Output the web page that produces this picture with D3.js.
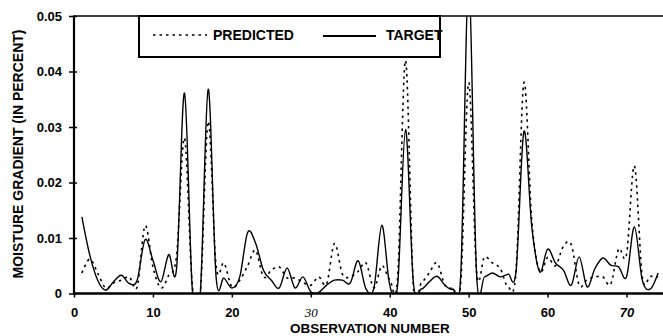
<!DOCTYPE html>
<html>
<head>
<meta charset="utf-8">
<script src="https://cdn.jsdelivr.net/npm/d3@7"></script>
<style>
  body { margin: 0; background: #fff; }
  svg { display: block; font-family: "Liberation Sans", Arial, sans-serif; }
</style>
</head>
<body>
<div id="chart"></div>
<script>
// observation numbers (x categories)
const observations = [1, 2, 3, 4, 5, 6, 7, 8, 9, 10, 11, 12, 13, 14, 15, 16, 17, 18, 19, 20,
  21, 22, 23, 24, 25, 26, 27, 28, 29, 30, 31, 32, 33, 34, 35, 36, 37, 38, 39, 40,
  41, 42, 43, 44, 45, 46, 47, 48, 49, 50, 51, 52, 53, 54, 55, 56, 57, 58, 59, 60,
  61, 62, 63, 64, 65, 66, 67, 68, 69, 70, 71, 72, 73, 74];

// target moisture gradient (solid line)
const targetValues = [0.0138, 0.0069, 0.0024, 0.0006, 0.0021, 0.0033, 0.0018, 0.0024, 0.0097, 0.0060,
  0.0021, 0.0070, 0.0046, 0.0361, 0.0005, 0.0000, 0.0368, 0.0030, 0.0028, 0.0010,
  0.0030, 0.0110, 0.0091, 0.0042, 0.0024, 0.0010, 0.0046, 0.0010, 0.0030, 0.0003,
  0.0002, 0.0015, 0.0024, 0.0024, 0.0019, 0.0059, 0.0008, 0.0010, 0.0123, 0.0015,
  0.0015, 0.0295, 0.0019, 0.0008, 0.0021, 0.0031, 0.0015, 0.0008, 0.0035, 0.0560,
  0.0035, 0.0030, 0.0037, 0.0030, 0.0035, 0.0040, 0.0292, 0.0120, 0.0039, 0.0080,
  0.0055, 0.0042, 0.0015, 0.0066, 0.0012, 0.0045, 0.0064, 0.0051, 0.0048, 0.0030,
  0.0120, 0.0024, 0.0008, 0.0037];

// predicted moisture gradient (dotted line)
const predictedValues = [0.0037, 0.0062, 0.0037, 0.0010, 0.0019, 0.0024, 0.0030, 0.0012, 0.0122, 0.0048,
  0.0010, 0.0033, 0.0069, 0.0280, 0.0012, 0.0000, 0.0310, 0.0050, 0.0055, 0.0012,
  0.0024, 0.0050, 0.0078, 0.0030, 0.0042, 0.0048, 0.0028, 0.0028, 0.0020, 0.0015,
  0.0030, 0.0017, 0.0090, 0.0035, 0.0030, 0.0040, 0.0055, 0.0010, 0.0050, 0.0025,
  0.0030, 0.0420, 0.0012, 0.0019, 0.0037, 0.0055, 0.0015, 0.0010, 0.0019, 0.0380,
  0.0040, 0.0066, 0.0055, 0.0045, 0.0012, 0.0040, 0.0380, 0.0130, 0.0040, 0.0065,
  0.0050, 0.0085, 0.0088, 0.0015, 0.0025, 0.0030, 0.0030, 0.0017, 0.0080, 0.0070,
  0.0230, 0.0030, 0.0031, 0.0030];

const xTicks = [0, 10, 20, 30, 40, 50, 60, 70];
const yTicks = [0, 0.01, 0.02, 0.03, 0.04, 0.05];

const width = 663;
const height = 336;

const svg = d3.select('#chart').append('svg')
  .attr('width', width)
  .attr('height', height);

const x = d3.scaleLinear().domain([0, 75]).range([74, 666]);
const y = d3.scaleLinear().domain([0, 0.05]).range([293.5, 16]);

// clip the curves to the plot area
svg.append('clipPath').attr('id', 'plotClip')
  .append('rect')
  .attr('x', 74).attr('y', 16)
  .attr('width', width - 74).attr('height', 293.5 - 16);

// uniform catmull-rom, close to the spreadsheet "smoothed line"
const line = d3.line()
  .x((d, i) => x(observations[i]))
  .y(d => y(d))
  .curve(d3.curveCatmullRom.alpha(0));

const plot = svg.append('g').attr('clip-path', 'url(#plotClip)');

plot.append('path')
  .datum(predictedValues)
  .attr('fill', 'none')
  .attr('stroke', '#000')
  .attr('stroke-width', 1.6)
  .attr('stroke-dasharray', '2.5,4')
  .attr('d', line);

plot.append('path')
  .datum(targetValues)
  .attr('fill', 'none')
  .attr('stroke', '#000')
  .attr('stroke-width', 1.4)
  .attr('d', line);

// y axis
const yAxis = svg.append('g')
  .attr('transform', 'translate(74,0)')
  .call(d3.axisLeft(y)
    .tickValues(yTicks)
    .tickSize(5)
    .tickPadding(7)
    .tickFormat(d => d === 0 ? '0' : d3.format('.2f')(d)));
yAxis.select('.domain').remove();
yAxis.selectAll('.tick line').attr('x1', 3).attr('stroke-width', 1.5);
yAxis.selectAll('.tick text')
  .style('font-family', '"Liberation Sans", Arial, sans-serif')
  .style('font-size', '13px')
  .style('font-weight', 'bold')
  .attr('fill', '#000');

// x axis
const xAxis = svg.append('g')
  .attr('transform', 'translate(0,293.5)')
  .call(d3.axisBottom(x)
    .tickValues(xTicks)
    .tickSize(4)
    .tickPadding(10)
    .tickFormat(d3.format('d')));
xAxis.select('.domain').remove();
xAxis.selectAll('.tick line').attr('stroke-width', 1.5);
xAxis.selectAll('.tick text')
  .style('font-family', d => d === 30 ? '"Liberation Serif", "Times New Roman", serif' : '"Liberation Sans", Arial, sans-serif')
  .style('font-style', d => (d === 30 || d === 70) ? 'italic' : 'normal')
  .style('font-weight', d => d === 30 ? 'normal' : 'bold')
  .style('font-size', '13px')
  .attr('fill', '#000');

// frame lines: y axis, bottom axis, top border
svg.append('line')
  .attr('x1', 74).attr('x2', 74)
  .attr('y1', 16).attr('y2', 294.5)
  .attr('stroke', '#000').attr('stroke-width', 2.2);
svg.append('line')
  .attr('x1', 73).attr('x2', width)
  .attr('y1', 293.5).attr('y2', 293.5)
  .attr('stroke', '#000').attr('stroke-width', 2.6);
svg.append('line')
  .attr('x1', 73).attr('x2', width)
  .attr('y1', 16).attr('y2', 16)
  .attr('stroke', '#000').attr('stroke-width', 1.6);

// legend box
const legend = svg.append('g');
legend.append('rect')
  .attr('x', 139).attr('y', 16)
  .attr('width', 301).attr('height', 41)
  .attr('fill', '#fff')
  .attr('stroke', '#000')
  .attr('stroke-width', 2);

legend.append('line')
  .attr('x1', 153).attr('x2', 207)
  .attr('y1', 35).attr('y2', 35)
  .attr('stroke', '#000').attr('stroke-width', 1.6)
  .attr('stroke-dasharray', '2.5,4');
legend.append('text')
  .attr('x', 213).attr('y', 40)
  .style('font-size', '14px').style('font-weight', 'bold')
  .text('PREDICTED');

legend.append('line')
  .attr('x1', 323).attr('x2', 376)
  .attr('y1', 36).attr('y2', 36)
  .attr('stroke', '#000').attr('stroke-width', 1.8);
legend.append('text')
  .attr('x', 386).attr('y', 40)
  .style('font-size', '14px').style('font-weight', 'bold')
  .text('TARGET');

// axis titles
svg.append('text')
  .attr('x', 370).attr('y', 333)
  .attr('text-anchor', 'middle')
  .style('font-size', '13.5px').style('font-weight', 'bold')
  .text('OBSERVATION NUMBER');

svg.append('text')
  .attr('transform', 'translate(23,154) rotate(-90)')
  .attr('text-anchor', 'middle')
  .style('font-size', '14px').style('font-weight', 'bold')
  .text('MOISTURE GRADIENT (IN PERCENT)');
</script>
</body>
</html>
